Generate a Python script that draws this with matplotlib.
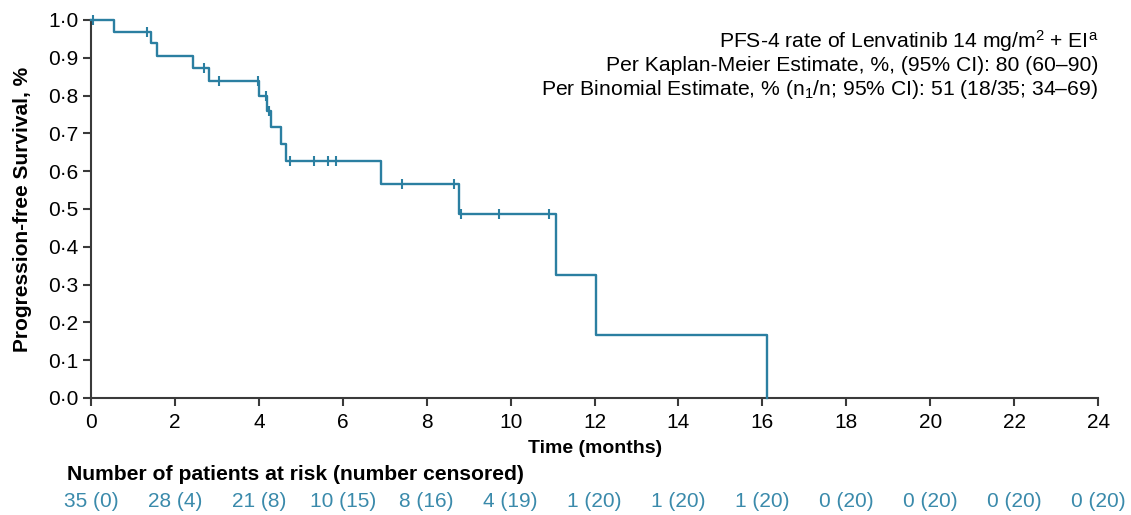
import numpy as np
import matplotlib
matplotlib.use("Agg")
import matplotlib.pyplot as plt

plt.rcParams["font.family"] = ["Liberation Sans", "DejaVu Sans"]
plt.rcParams["mathtext.fontset"] = "custom"
plt.rcParams["mathtext.rm"] = "Liberation Sans"
plt.rcParams["mathtext.it"] = "Liberation Sans:italic"

# Kaplan-Meier steps
event_times = [0, 0.55, 1.43, 1.57, 2.42, 2.81, 4.0, 4.20, 4.29, 4.53, 4.65,
               6.90, 8.77, 11.07, 12.03, 16.12]
survival = [1.0, 0.969, 0.938, 0.905, 0.872, 0.839, 0.800, 0.759, 0.716,
            0.672, 0.627, 0.565, 0.486, 0.325, 0.167, 0.0]
censor_times = [0.05, 1.34, 2.69, 3.05, 3.97, 4.18, 4.23, 4.74, 5.32, 5.64,
                5.84, 7.41, 8.64, 8.81, 9.72, 10.92]

risk_times = list(range(0, 25, 2))
at_risk = [35, 28, 21, 10, 8, 4, 1, 1, 1, 0, 0, 0, 0]
censored = [0, 4, 8, 15, 16, 19, 20, 20, 20, 20, 20, 20, 20]

annotation_lines = [
    r"PFS-4 rate of Lenvatinib 14 mg/m$^{\mathrm{2}}$ + EI$^{\mathrm{a}}$",
    "Per Kaplan-Meier Estimate, %, (95% CI): 80 (60–90)",
    r"Per Binomial Estimate, % (n$_{\mathrm{1}}$/n; 95% CI): 51 (18/35; 34–69)",
]

curve_colour = "#2b7fa1"
risk_colour = "#3a8aab"
axis_colour = "#3a3a3a"

fig = plt.figure(figsize=(11.31, 5.15), dpi=100)
ax = fig.add_axes([0.0805, 0.2272, 0.8904, 0.734])

ax.step(event_times, survival, where="post", color=curve_colour, lw=1.7,
        clip_on=False, zorder=3)

# censor ticks sit on the curve
censor_surv = [survival[np.searchsorted(event_times, t, side="right") - 1]
               for t in censor_times]
ax.plot(censor_times, censor_surv, ls="none", marker="|", ms=7, mew=1.5,
        color=curve_colour, clip_on=False, zorder=4)

ax.set_xlim(0, 24)
ax.set_ylim(0, 1)
ax.set_xticks(risk_times)
ax.set_yticks(np.arange(0, 1.01, 0.1))
ax.set_yticklabels([f"{v:.1f}".replace(".", "·") for v in np.arange(0, 1.01, 0.1)])

for side in ["top", "right"]:
    ax.spines[side].set_visible(False)
for side in ["left", "bottom"]:
    ax.spines[side].set_color(axis_colour)
    ax.spines[side].set_linewidth(1.5)
ax.tick_params(axis="both", direction="out", length=6, width=1.5,
               color=axis_colour, labelsize=15, pad=3)
ax.tick_params(axis="x", pad=5)

ax.set_xlabel("Time (months)", fontsize=14, fontweight="bold")
ax.xaxis.set_label_coords(0.5, -0.11)
ax.xaxis.label.set_va("top")
ax.set_ylabel("Progression-free Survival, %", fontsize=15, fontweight="bold")
ax.yaxis.set_label_coords(-0.0685, 0.5)
ax.yaxis.label.set_va("center")

for i, line in enumerate(annotation_lines):
    ax.text(1.0, 0.944 - i * 0.0635, line, transform=ax.transAxes,
            ha="right", va="center", fontsize=15.2)

# number at risk table
fig.text(0.0592, 0.0777, "Number of patients at risk (number censored)",
         fontsize=15.2, fontweight="bold", ha="left", va="center")
for t, n, c in zip(risk_times, at_risk, censored):
    ax.text(t, -0.274, f"{n} ({c})", transform=ax.get_xaxis_transform(),
            ha="center", va="center", fontsize=15, color=risk_colour)

fig.savefig("out.png", dpi=100)
